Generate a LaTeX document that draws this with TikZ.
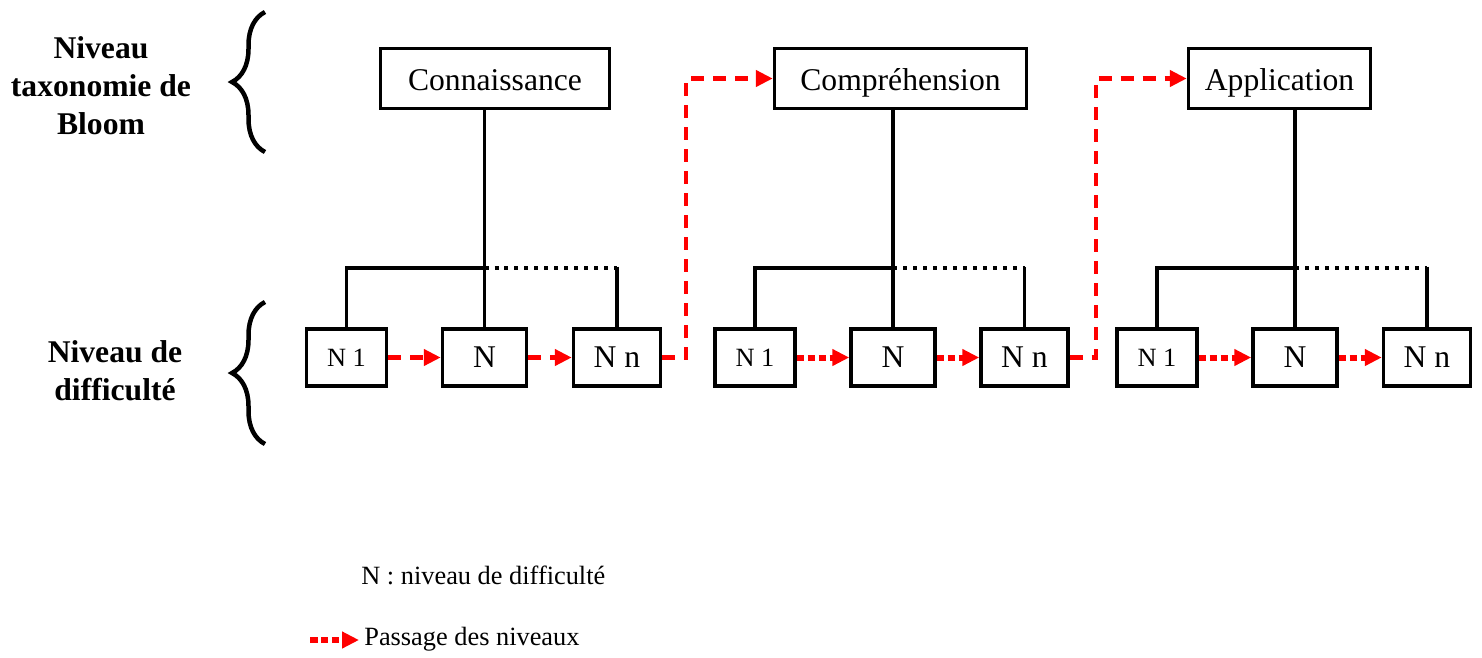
\documentclass[tikz,border=0pt]{standalone}
\usepackage{fontspec}
\setmainfont{Liberation Serif}
\usetikzlibrary{arrows.meta,decorations.pathreplacing}

\begin{document}
\begin{tikzpicture}[x=0.02cm, y=-0.02cm,
    bloom/.style = {draw, line width=0.07cm, minimum height=1.2cm, text height=0.56cm, text depth=0.1cm, font=\fontsize{18}{21}\selectfont},
    niv/.style = {draw, line width=0.07cm, minimum height=1.14cm, font=\fontsize{18}{21}\selectfont},
    lien/.style = {line width=0.07cm},
    pas/.style = {red, line width=0.09cm, dash pattern=on 0.26cm off 0.18cm, -{Triangle[length=0.34cm,width=0.32cm]}},
    pasdot/.style = {red, line width=0.12cm, dash pattern=on 0.15cm off 0.07cm, -{Triangle[length=0.34cm,width=0.32cm]}},
    acc/.style = {decorate, decoration={brace, amplitude=0.66cm}, line width=0.09cm},
    titre/.style = {align=center, font=\fontsize{18}{21.6}\selectfont\bfseries}]

    \useasboundingbox (0,0) rectangle (1482,657);

    \node[titre] (tax) at (101, 86) {Niveau\\taxonomie de\\Bloom};
    \node[titre] (dif) at (115, 371) {Niveau de\\difficulté};
    \draw[acc] (265, 152) -- (265, 12);
    \draw[acc] (265, 444) -- (265, 302);

    \node[bloom, minimum width=4.58cm] (b1) at (495, 78.5) {Connaissance};
    \node[bloom, minimum width=5.04cm] (b2) at (900.5, 78.5) {Compréhension};
    \node[bloom, minimum width=3.64cm] (b3) at (1279.5, 78.5) {Application};

    \node[niv, minimum width=1.6cm, font=\fontsize{15}{18}\selectfont] (n11) at (346.5, 357.5) {N 1};
    \node[niv, minimum width=1.68cm] (n12) at (484.5, 357.5) {N};
    \node[niv, minimum width=1.74cm] (n13) at (617, 357.5) {N n};

    \node[niv, minimum width=1.6cm, font=\fontsize{15}{18}\selectfont] (n21) at (755, 357.5) {N 1};
    \node[niv, minimum width=1.68cm] (n22) at (893, 357.5) {N};
    \node[niv, minimum width=1.74cm] (n23) at (1024.5, 357.5) {N n};

    \node[niv, minimum width=1.6cm, font=\fontsize{15}{18}\selectfont] (n31) at (1157, 357.5) {N 1};
    \node[niv, minimum width=1.68cm] (n32) at (1295, 357.5) {N};
    \node[niv, minimum width=1.74cm] (n33) at (1427, 357.5) {N n};

    % Connaissance
    \draw[lien] (b1.south -| n12.north) -- (n12.north);
    \draw[lien] (n11.north) |- (n12.north |- 0,268);
    \draw[lien, dash pattern=on 0.08cm off 0.12cm] (n12.north |- 0,268) -- (n13.north |- 0,268);
    \draw[lien] (n13.north |- 0,266.5) -- (n13.north);

    % Compréhension
    \draw[lien] (b2.south -| n22.north) -- (n22.north);
    \draw[lien] (n21.north) |- (n22.north |- 0,268);
    \draw[lien, dash pattern=on 0.08cm off 0.12cm] (n22.north |- 0,268) -- (n23.north |- 0,268);
    \draw[lien] (n23.north |- 0,266.5) -- (n23.north);

    % Application
    \draw[lien] (b3.south -| n32.north) -- (n32.north);
    \draw[lien] (n31.north) |- (n32.north |- 0,268);
    \draw[lien, dash pattern=on 0.08cm off 0.12cm] (n32.north |- 0,268) -- (n33.north |- 0,268);
    \draw[lien] (n33.north |- 0,266.5) -- (n33.north);

    \draw[pas] (n11) -- (n12);
    \draw[pas] (n12) -- (n13);
    \draw[pasdot] (n21) -- (n22);
    \draw[pasdot] (n22) -- (n23);
    \draw[pasdot] (n31) -- (n32);
    \draw[pasdot] (n32) -- (n33);

    \draw[pas] (n13.east) -- ++(24, 0) |- (b2.west);
    \draw[pas] (n23.east) -- ++(26, 0) |- (b3.west);

    % legende
    \node[anchor=west, inner sep=0pt, font=\fontsize{15}{18}\selectfont] (leg1) at (361, 575) {N : niveau de difficulté};
    \node[anchor=west, inner sep=0.1cm, font=\fontsize{15}{18}\selectfont] (leg2) at (359, 639) {Passage des niveaux};
    \coordinate (la) at (310, 640);
    \draw[pasdot] (la) -- (la -| leg2.west);

\end{tikzpicture}
\end{document}
